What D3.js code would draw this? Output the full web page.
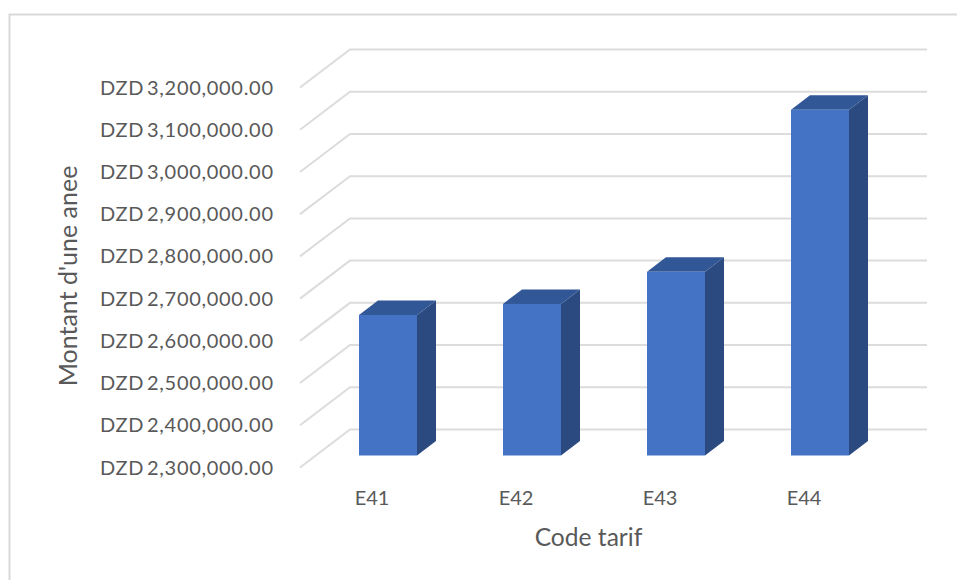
<!DOCTYPE html>
<html><head><meta charset="utf-8">
<script src="https://cdn.jsdelivr.net/npm/d3@7/dist/d3.min.js"></script>
<style>html,body{margin:0;padding:0;background:#fff}svg{display:block}text{font-family:Lato,"Open Sans",sans-serif;fill:#595959}</style>
</head><body><div id="c"></div>
<script>
const categories = ["E41","E42","E43","E44"];
const values = [2633000,2659000,2735000,3119000];
const tickValues = [2300000,2400000,2500000,2600000,2700000,2800000,2900000,3000000,3100000,3200000];
const yTitle = "Montant d'une anee";
const xTitle = "Code tarif";

const W=957,H=580;
const svg=d3.select("#c").append("svg").attr("width",W).attr("height",H);
const fmt=d3.format(",.2f");

// frame
svg.append("path").attr("d",`M9.5,${H}V14.5H${W}`).attr("fill","none").attr("stroke","#d9d9d9").attr("stroke-width",2);

// scale on the front wall edge; floor/bars are offsets in depth
const y=d3.scaleLinear().domain([2300000,3200000]).range([467.5,87.5]);
const x=d3.scaleBand().domain(categories).range([316,892]).paddingInner(0.5972).paddingOuter(0.2986);
const wall={dx:50,dy:-38}, barPlane=-12, depth={dx:19,dy:-14.5};

// gridlines
svg.append("g").selectAll("path").data(tickValues).join("path")
  .attr("d",d=>`M300,${y(d)}L${300+wall.dx},${y(d)+wall.dy}H927`)
  .attr("fill","none").attr("stroke","#dcdcdc").attr("stroke-width",2);

// tick labels
svg.append("g").selectAll("text").data(tickValues).join("text")
  .attr("x",273).attr("y",d=>y(d)+7).attr("text-anchor","end")
  .attr("font-size",20).attr("textLength",173).attr("lengthAdjust","spacing")
  .attr("word-spacing",-3)
  .text(d=>"DZD "+fmt(d));

// bars
const g=svg.append("g").selectAll("g").data(categories.map((c,i)=>({c,v:values[i]}))).join("g");
const base=y(2300000)+barPlane;
g.append("path").attr("fill","#2a4a80").attr("d",d=>{
  const r=x(d.c)+x.bandwidth(), t=y(d.v)+barPlane;
  return `M${r},${t}l${depth.dx},${depth.dy}V${base+depth.dy}l${-depth.dx},${-depth.dy}Z`;});
g.append("path").attr("fill","#315796").attr("d",d=>{
  const l=x(d.c), t=y(d.v)+barPlane;
  return `M${l},${t}l${depth.dx},${depth.dy}h${x.bandwidth()}l${-depth.dx},${-depth.dy}Z`;});
g.append("rect").attr("fill","#4472c4")
  .attr("x",d=>x(d.c)).attr("width",x.bandwidth())
  .attr("y",d=>y(d.v)+barPlane).attr("height",d=>base-(y(d.v)+barPlane));

// category labels
svg.append("g").selectAll("text").data(categories).join("text")
  .attr("x",d=>x(d)+x.bandwidth()/2-16).attr("y",505).attr("text-anchor","middle")
  .attr("font-size",20).text(d=>d);

// axis titles
svg.append("text").attr("transform","translate(77,276) rotate(-90)").attr("text-anchor","middle")
  .attr("font-size",25).text(yTitle);
svg.append("text").attr("x",588.5).attr("y",546).attr("text-anchor","middle")
  .attr("font-size",24.6).text(xTitle);
</script></body></html>
